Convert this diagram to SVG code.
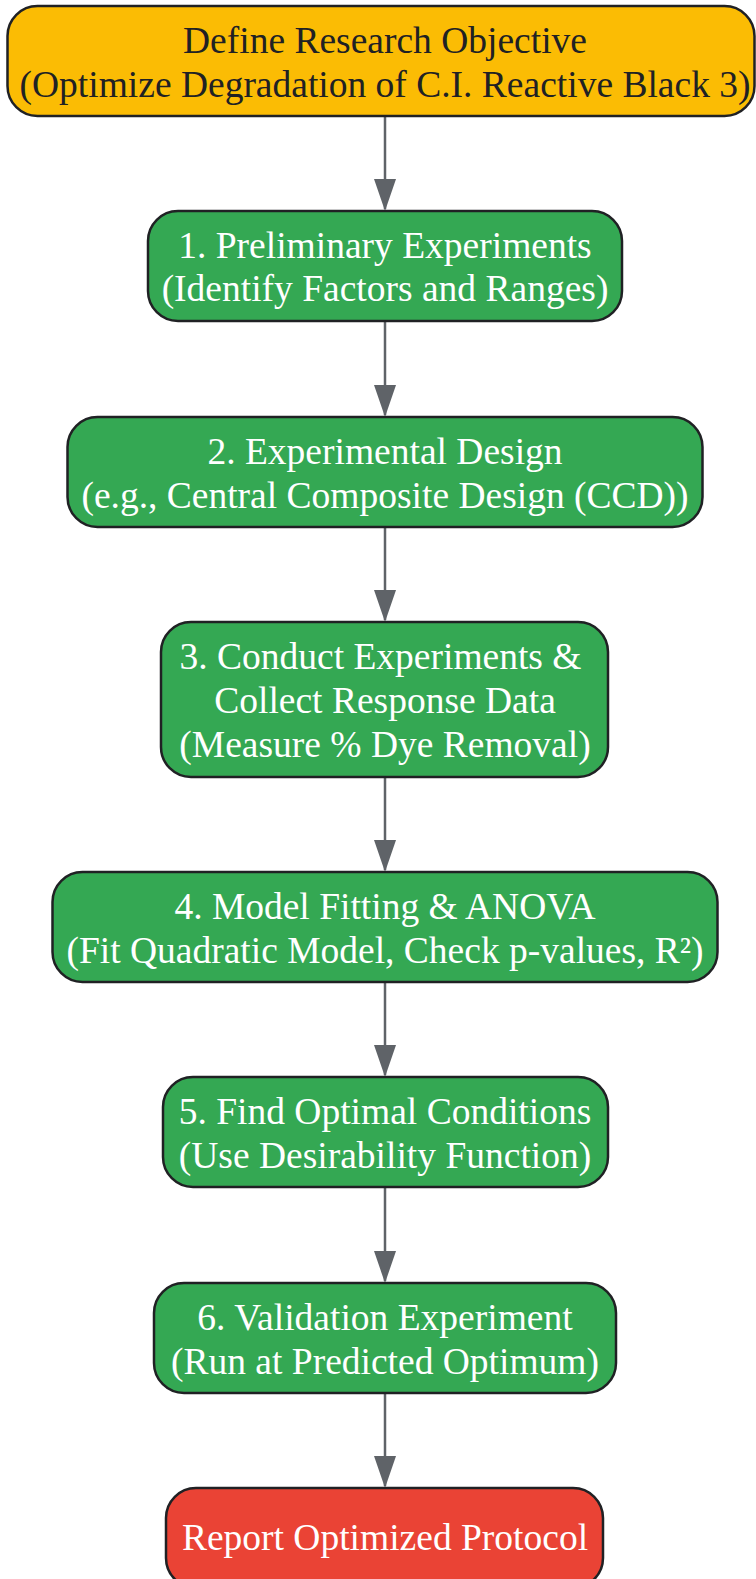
<svg xmlns="http://www.w3.org/2000/svg" width="756" height="1579" viewBox="0 0 756 1579">
<style>
.box{stroke:#202124;stroke-width:2.5}
.start{fill:#FBBC04}
.step{fill:#34A853}
.end{fill:#EA4335}
text{font-family:"Liberation Serif","Times New Roman",serif;font-size:37.5px;text-anchor:middle}
.dark{fill:#202124}
.light{fill:#ffffff}
.edge{stroke:#5F6368;stroke-width:2.5;fill:none}
</style>
<defs>
<marker id="arr" markerUnits="userSpaceOnUse" viewBox="0 0 32 22" markerWidth="32" markerHeight="22" refX="30" refY="11" orient="auto">
<path d="M0,0 L32,11 L0,22 z" fill="#5F6368"/>
</marker>
</defs>
<g id="connectors">
<line class="edge" x1="385" y1="116" x2="385" y2="209" marker-end="url(#arr)"/>
<line class="edge" x1="385" y1="321" x2="385" y2="415" marker-end="url(#arr)"/>
<line class="edge" x1="385" y1="527" x2="385" y2="620" marker-end="url(#arr)"/>
<line class="edge" x1="385" y1="777" x2="385" y2="870" marker-end="url(#arr)"/>
<line class="edge" x1="385" y1="982" x2="385" y2="1075" marker-end="url(#arr)"/>
<line class="edge" x1="385" y1="1187" x2="385" y2="1281" marker-end="url(#arr)"/>
<line class="edge" x1="385" y1="1393" x2="385" y2="1486" marker-end="url(#arr)"/>
</g>
<g id="objective">
<rect class="box start" x="7.5" y="6" width="747" height="110" rx="30"/>
<text class="dark" x="385" y="52.5">Define Research Objective</text>
<text class="dark" x="385" y="96.5">(Optimize Degradation of C.I. Reactive Black 3)</text>
</g>
<g id="step1">
<rect class="box step" x="148" y="211" width="474" height="110" rx="30"/>
<text class="light" x="385" y="257.5">1. Preliminary Experiments</text>
<text class="light" x="385" y="301">(Identify Factors and Ranges)</text>
</g>
<g id="step2">
<rect class="box step" x="67.5" y="417" width="635" height="110" rx="30"/>
<text class="light" x="385" y="463.5">2. Experimental Design</text>
<text class="light" x="385" y="507.5">(e.g., Central Composite Design (CCD))</text>
</g>
<g id="step3">
<rect class="box step" x="161" y="622" width="447" height="155" rx="30"/>
<text class="light" x="380.5" y="668.5">3. Conduct Experiments &amp;</text>
<text class="light" x="385" y="712.5">Collect Response Data</text>
<text class="light" x="385" y="756.5">(Measure % Dye Removal)</text>
</g>
<g id="step4">
<rect class="box step" x="52.5" y="872" width="665" height="110" rx="30"/>
<text class="light" x="385" y="918.5">4. Model Fitting &amp; ANOVA</text>
<text class="light" x="385" y="962.5">(Fit Quadratic Model, Check p-values, R²)</text>
</g>
<g id="step5">
<rect class="box step" x="163" y="1077" width="445" height="110" rx="30"/>
<text class="light" x="385" y="1123.5">5. Find Optimal Conditions</text>
<text class="light" x="385" y="1167.5">(Use Desirability Function)</text>
</g>
<g id="step6">
<rect class="box step" x="154" y="1283" width="462" height="110" rx="30"/>
<text class="light" x="385" y="1329.5">6. Validation Experiment</text>
<text class="light" x="385" y="1373.5">(Run at Predicted Optimum)</text>
</g>
<g id="report">
<rect class="box end" x="166" y="1488" width="437" height="100" rx="30"/>
<text class="light" x="385" y="1550">Report Optimized Protocol</text>
</g>
</svg>
